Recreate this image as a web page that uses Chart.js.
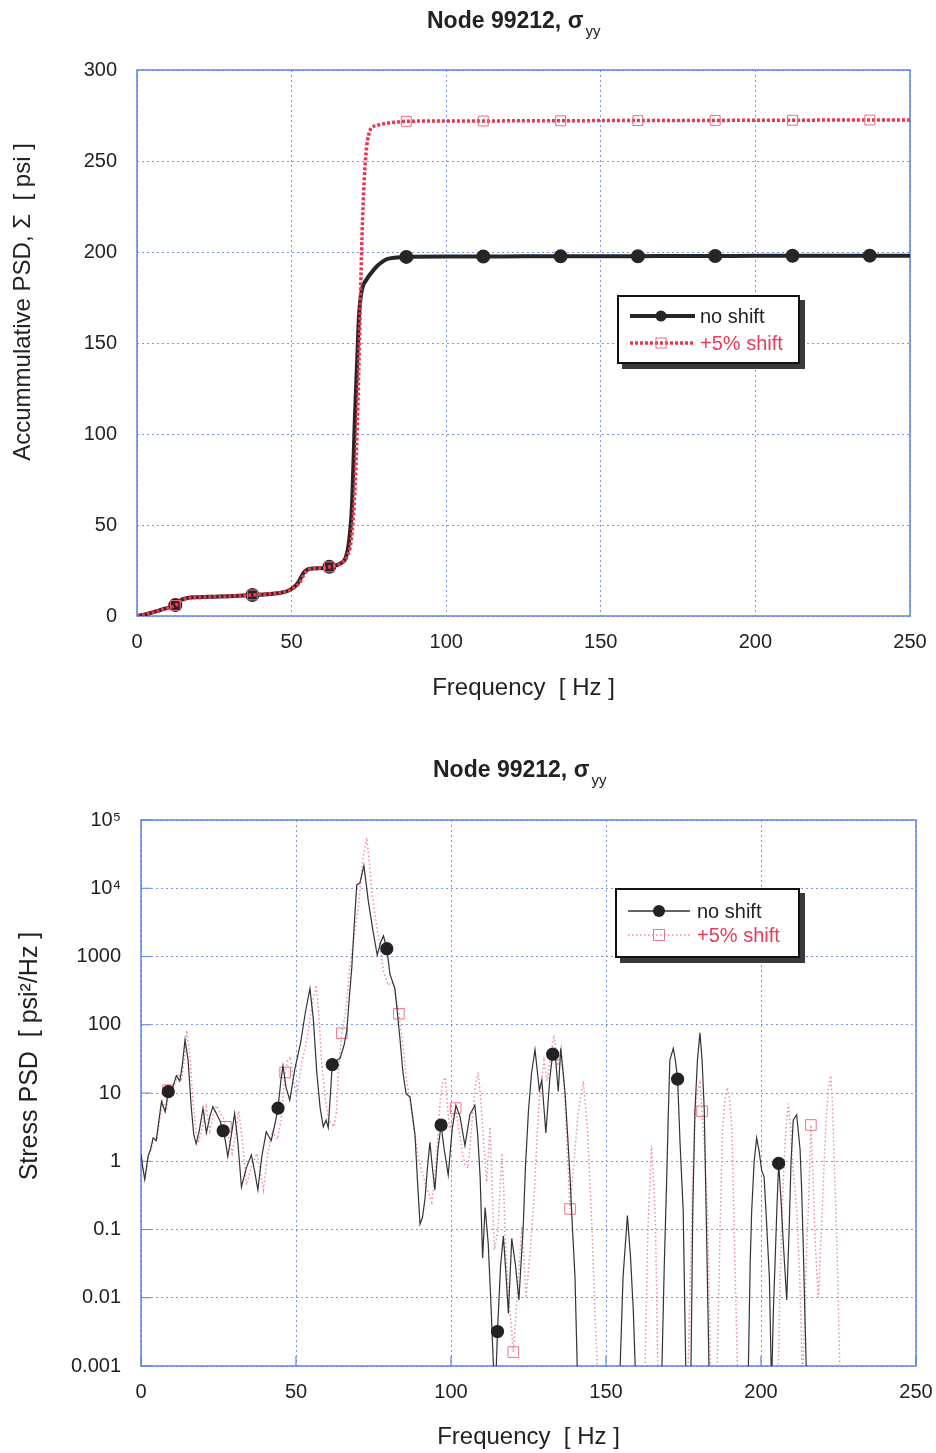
<!DOCTYPE html>
<html>
<head>
<meta charset="utf-8">
<script src="https://cdn.jsdelivr.net/npm/chart.js@4.4.0/dist/chart.umd.min.js"></script>
<style>
  body { margin: 0; background: #fff; }
  #wrap { position: relative; width: 936px; height: 1453px; font-family: "Liberation Sans", Arial, sans-serif; color: #222; }
  canvas { position: absolute; left: 0; }
  .title { position: absolute; font-size: 23px; font-weight: bold; white-space: nowrap; }
  .title sub { font-size: 15px; font-weight: normal; vertical-align: -8px; margin-left: 2px; }
  .ytitle { position: absolute; width: 400px; height: 30px; line-height: 30px; text-align: center;
            font-size: 24px; white-space: pre; transform: rotate(-90deg); }
  .legend { position: absolute; box-sizing: border-box; background: #fff; border: 2px solid #111;
            box-shadow: 5px 5px 0 #3a3a3a; }
  .legend svg { position: absolute; left: 0; top: 0; }
  .legend span { position: absolute; font-size: 20px; line-height: 24px; white-space: nowrap; }
</style>
</head>
<body>
<div id="wrap">
  <canvas id="cum" width="936" height="720" style="top:0"></canvas>
  <canvas id="psd" width="936" height="733" style="top:720px"></canvas>

  <div class="title" style="left:427px;top:7px">Node 99212, σ<sub>yy</sub></div>
  <div class="title" style="left:433px;top:756px">Node 99212, σ<sub>yy</sub></div>

  <div class="ytitle" style="left:-178px;top:287px">Accummulative PSD, Σ  [ psi ]</div>
  <div class="ytitle" style="left:-172px;top:1041px;font-size:25px">Stress PSD  [ psi²/Hz ]</div>

  <!-- legend, top chart -->
  <div class="legend" style="left:617px;top:295px;width:183px;height:69px">
    <svg width="179" height="65">
      <line x1="11" y1="19" x2="76" y2="19" stroke="#262626" stroke-width="4"/>
      <circle cx="42" cy="19" r="5.5" fill="#262626"/>
      <line x1="11" y1="46" x2="76" y2="46" stroke="#f0344f" stroke-width="3.5" stroke-dasharray="3,2"/>
      <rect x="37" y="41" width="10" height="10" fill="none" stroke="#f06a7c" stroke-width="1"/>
    </svg>
    <span style="left:81px;top:7px">no shift</span>
    <span style="left:81px;top:34px;color:#ee3a55">+5% shift</span>
  </div>

  <!-- legend, bottom chart -->
  <div class="legend" style="left:615px;top:888px;width:185px;height:70px">
    <svg width="181" height="66">
      <line x1="11" y1="21" x2="73" y2="21" stroke="#333" stroke-width="1.3"/>
      <circle cx="42" cy="21" r="6" fill="#222"/>
      <line x1="11" y1="45" x2="73" y2="45" stroke="#ee8ea2" stroke-width="1.5" stroke-dasharray="1.5,2.5"/>
      <rect x="36.5" y="39.5" width="11" height="11" fill="none" stroke="#f07284" stroke-width="1"/>
    </svg>
    <span style="left:80px;top:9px">no shift</span>
    <span style="left:80px;top:33px;color:#ee3a55">+5% shift</span>
  </div>
</div>

<script>
// ---- top chart: accumulated PSD (psi) vs frequency (Hz)
const cumFreqNoShift = [0,3,6,9,12.4,14,16,20,25,30,37.3,42,46,48.5,50.5,52,54,56,60,62.2,
  66,67.5,68.5,69.5,70.5,71.2,71.8,72.6,74.3,76,77.5,80.7,84,87.1,100,112,125,137,150,162,
  175,187,200,212,225,237,250];
const cumNoShift = [0,1,2.5,4,6,8.5,9.8,10.3,10.6,10.9,11.5,12,12.6,13.6,15.5,18,24,26,26.3,27,
  29,32,40,60,110,140,165,178,185,189,192,196,197,197.3,197.5,197.5,197.6,197.6,197.7,197.7,
  197.8,197.8,197.9,197.9,198,198,198];
const cumFreqShift = [0,3,6,9,12.4,14.5,16.5,20,25,30,37.3,42,46,48.5,50.8,52.5,54.5,56.5,60,62.2,
  66.5,68,69.3,70.5,71.5,72.2,72.8,73.5,74.3,75.4,76.5,78.6,82,87.1,100,112,125,137,150,162,
  175,187,200,212,225,237,250];
const cumShift = [0,1,2.4,3.9,5.8,8.5,9.8,10.3,10.6,10.9,11.6,12.1,12.7,13.6,15.5,18,24,26,26.3,27,
  29.5,33,42,70,120,170,210,240,258,267,269,270,271,271.8,272,272,272.1,272.1,272.2,272.2,
  272.3,272.3,272.4,272.4,272.5,272.5,272.5];
const cumMarkers = [12.4,37.3,62.2,87.1,112,137,162,187,212,237];

// ---- bottom chart: stress PSD (psi^2/Hz), log scale
// very small values (< 0.001) are points that fall below the plot
const psdFreqNoShift = [0,0.5,1.2,2.3,3.1,3.9,4.9,5.8,6.6,7.8,
  8.8,10.2,11.4,12.5,13.3,14.2,15.2,16.2,17,17.8,
  18.8,20,21.1,22.2,23.2,24.3,25.4,26.5,27.2,28,
  29,30.2,31.2,32.4,34,35.6,36.7,37.7,39,40.4,
  42,43.2,44.2,45.1,45.8,46.8,48,49.6,51.5,53,
  54.5,55.6,56.7,57.8,58.8,59.7,60.4,61.7,63,64.2,
  65.5,66.4,67.2,68,68.8,69.6,70.6,71.9,72.6,73.3,
  74.9,76.2,77.3,78.2,79.3,80.3,81.9,82.7,83.5,84.5,
  85.5,86.8,88.4,89.2,90,90.8,91.6,92.4,93.2,94,
  94.8,95.8,96.8,97.8,99.1,100.4,101.6,102.9,104.5,106.1,
  107.7,108.6,109.4,110.2,111,112,112.8,113.4,114.2,115,
  116,116.9,117.8,118.5,119.6,120.8,121.9,123.3,124,125,
  126,127.1,128.5,129.3,130.6,131.9,132.8,133.5,134.6,135.4,
  136.8,137.6,138.4,139.2,140,141,147,154.5,155.5,156.9,
  157.9,158.8,159.8,164,168,168.8,169.6,170.1,170.6,171.7,
  172.4,173.1,173.9,174.9,175.8,176.6,177.4,178,178.7,179.5,
  180.3,181,181.7,182.5,183.3,190,195.9,196.5,197,197.8,
  198.6,199.4,200.2,201,201.6,202.7,203.4,204,204.6,205.1,
  205.7,206.4,207.2,208.3,209.1,209.7,210.4,211.5,212.6,213.1,
  213.6,214.7,220];
const psdNoShift = [1.3,0.85,0.54,1.2,1.5,2.2,2.0,4,7.5,5.3,
  10.5,12,18,15,25,60,30,6.3,2.5,1.8,
  2.8,6,2.6,4.5,6.3,5,4,2.8,2,1.17,
  2.2,5,2,0.42,0.8,1.24,0.7,0.38,1.2,2.7,
  2.0,3.5,6,15,25,12,7.9,22,55,150,
  340,120,20,6,3.2,4,3.1,26,30,32,
  50,83,250,690,3000,11200,11900,21500,12000,6600,
  2280,1050,1600,2000,1300,550,340,150,65,20,
  9.8,8.7,2.4,0.5,0.12,0.15,0.28,0.8,1.9,0.8,
  0.38,1.5,3.4,1.5,0.63,3,6.6,4.5,1.7,4.8,
  6.6,2.5,0.59,0.038,0.21,0.063,0.01,0.0021,0.0003,0.0032,
  0.03,0.08,0.02,0.0059,0.074,0.03,0.0093,0.11,0.8,5.6,
  20,43,11,15.5,2.6,17,37,43,10.5,45,
  10,2.5,0.59,0.1,0.02,0.0003,0.00001,0.0008,0.02,0.16,
  0.04,0.0066,0.0003,0.00001,0.0008,0.03,0.59,5,30,45,
  30,16,1.8,0.19,0.0006,0.0001,0.0008,0.2,5.6,30,
  76,30,5.6,0.063,0.0006,0.00001,0.0008,0.03,0.19,1,
  2.2,1.4,0.74,0.59,0.19,0.02,0.0005,0.0066,0.04,0.19,
  0.93,0.3,0.063,0.0093,0.11,1,4,4.8,1.5,0.4,
  0.063,0.0006,0.00001];
const psdMarkersNoShift = [8.8,26.5,44.2,61.7,79.3,96.8,115,132.8,173.1,205.7];

const psdFreqShift = [0,0.6,1.3,2.4,3.3,4.1,5.1,6,6.9,8.2,
  8.7,10.7,12,13.1,14,14.7,15.8,16.9,17.8,18.6,
  19.7,21,22.2,23.3,24.4,25.5,26.7,27.4,28.5,29.4,
  30.5,31.5,32.7,34,35.7,37.4,38.5,39.5,40.9,42.4,
  44,45.2,46.5,47.3,48.2,49.2,50.2,52,53.8,55.2,
  56.5,57.4,58.2,59.5,60.5,61.5,62.2,63,63.8,64.8,
  66,67.4,68.8,70.1,71.5,72.8,73.6,74.4,75.5,76.5,
  78.2,79.8,80.7,81.5,83.2,84.6,85.7,86.8,88.4,89.3,
  90.5,92.2,93.8,94.6,95.4,96.5,97.3,98.1,98.8,99.5,
  100.5,101.5,102.5,103.5,104.5,105.5,106.3,107,108,108.8,
  109.7,110.5,111.5,112.6,113.3,114,115.2,116.4,117,117.6,
  118.8,120.1,121.3,122.8,123.5,124.2,125.6,126.8,127.7,128.5,
  130,131,132,133.2,134.5,135.5,136.2,137,137.7,138.4,
  139.5,141,142.7,144,145.5,146.5,147.5,155,162.5,163.5,
  164.7,165.5,166,166.8,171,176.4,177.2,178,178.6,179.3,
  180.3,181,181.8,182.8,183.8,184.8,185.8,186.8,187.6,188.4,
  189.1,189.9,190.6,191.5,192.5,199,205.5,206.2,206.8,207.8,
  208.8,209.6,210.3,211.5,212.5,213.4,214.2,214.7,215.3,216.1,
  216.8,217.5,218.5,219.5,220.3,221,221.8,222.5,223,223.5,
  224.5,225.5,232];
const psdShift = [1.2,0.8,0.55,1.15,1.5,2.2,2.0,4,7.5,5.6,
  11,13,19,16,30,83,35,6.5,2.6,2.0,
  3,6.3,2.8,4.7,6.5,5.2,4.2,3.2,2,1.3,
  2.4,5.4,2,0.45,0.85,1.3,0.7,0.38,1.3,2.8,
  2.1,4,20,30,34,15,9,30,70,200,
  380,140,30,8,4,3.5,3.2,5,25,75,
  150,700,2200,5200,25000,55000,25000,9500,4000,2000,
  620,380,420,400,145,46,15,7.7,2.4,1.2,
  0.73,0.4,0.25,0.5,1.3,7.7,14,17,7,3,
  4,6,3,1.5,0.9,0.8,2,5,14,20,
  7,2,0.5,3.2,0.4,0.05,0.1,1.3,0.4,0.05,
  0.008,0.0016,0.01,0.11,0.04,0.01,0.05,0.3,2,8,
  30,15,30,70,25,45,20,5,1,0.2,
  0.8,5,15,3,0.1,0.005,0.0005,0.00001,0.0005,0.1,
  1.7,0.4,0.1,0.0005,0.00001,0.0006,0.02,0.6,4,10,
  14,5.4,1.5,0.15,0.0006,0.0001,0.0006,0.1,3,8,
  12,8,3,0.05,0.0006,0.00001,0.0006,0.02,0.2,2,
  7,3,0.8,0.2,0.02,0.0006,0.007,0.05,0.2,3.4,
  0.6,0.06,0.01,0.1,0.8,4,12,18,8,1.5,
  0.06,0.0006,0.00001];
const psdMarkersShift = [8.7,27.4,46.5,64.8,83.2,101.5,120.1,138.4,181,216.1];

const freqTicks = [0,50,100,150,200,250];
const cumTicks = [0,50,100,150,200,250,300];
const psdTicks = [0.001,0.01,0.1,1,10,100,1000,1e4,1e5];
const psdTickLabels = ['0.001','0.01','0.1','1','10','100','1000','10⁴','10⁵'];

const FONT = '"Liberation Sans", Arial, sans-serif';
const GRID = 'rgba(110,140,232,0.9)';

function pts(xs, ys) {
  var out = [];
  for (var i = 0; i < xs.length; i++) out.push({x: xs[i], y: ys[i]});
  return out;
}
function markerRadius(list, r) {
  return function(ctx) { return list.indexOf(ctx.raw.x) >= 0 ? r : 0; };
}

// solid blue frame round the plot area (+ short inner tick marks if asked)
function framePlugin(tickLen) {
  return {
    id: 'frame',
    beforeDatasetsDraw(chart) {
      const a = chart.chartArea, c = chart.ctx;
      c.save();
      c.strokeStyle = '#5b84e2';
      c.lineWidth = 1.5;
      c.strokeRect(a.left, a.top, a.right - a.left, a.bottom - a.top);
      if (tickLen) {
        c.lineWidth = 1.2;
        c.beginPath();
        chart.scales.y.ticks.forEach(t => {
          const p = chart.scales.y.getPixelForValue(t.value);
          c.moveTo(a.left, p); c.lineTo(a.left + tickLen, p);
        });
        chart.scales.x.ticks.forEach(t => {
          const p = chart.scales.x.getPixelForValue(t.value);
          c.moveTo(p, a.bottom); c.lineTo(p, a.bottom - tickLen);
        });
        c.stroke();
      }
      c.restore();
    }
  };
}

function xAxis(height, titlePad) {
  return {
    type: 'linear', min: 0, max: 250,
    afterBuildTicks: s => { s.ticks = freqTicks.map(v => ({value: v})); },
    afterFit: s => { s.height = height; s.paddingLeft = 0; s.paddingRight = 0; },
    grid: { color: GRID, drawTicks: false, lineWidth: 1 },
    border: { display: false, dash: [2, 3] },
    ticks: { color: '#222', font: { family: FONT, size: 20 }, padding: 14, maxRotation: 0 },
    title: { display: true, text: 'Frequency  [ Hz ]', color: '#222',
             font: { family: FONT, size: 24 }, padding: { top: 0, bottom: titlePad } }
  };
}

new Chart(document.getElementById('cum'), {
  type: 'line',
  data: {
    datasets: [{
      label: '+5% shift',
      data: pts(cumFreqShift, cumShift),
      borderColor: '#f0344f',
      borderWidth: 3.5,
      borderDash: [3, 2],
      cubicInterpolationMode: 'monotone',
      pointStyle: 'rect',
      pointRadius: markerRadius(cumMarkers, 7),
      pointBackgroundColor: 'rgba(255,255,255,0)',
      pointBorderColor: '#f06a7c',
      pointBorderWidth: 1,
      order: 0
    }, {
      label: 'no shift',
      data: pts(cumFreqNoShift, cumNoShift),
      borderColor: '#262626',
      borderWidth: 4,
      cubicInterpolationMode: 'monotone',
      pointStyle: 'circle',
      pointRadius: markerRadius(cumMarkers, 5),
      pointBackgroundColor: '#262626',
      pointBorderColor: '#262626',
      order: 1
    }]
  },
  options: {
    responsive: false,
    animation: false,
    layout: { padding: { top: 70, right: 26, left: 0, bottom: 0 } },
    plugins: { legend: { display: false }, tooltip: { enabled: false } },
    scales: {
      x: xAxis(104, 17),
      y: {
        type: 'linear', min: 0, max: 300,
        afterBuildTicks: s => { s.ticks = cumTicks.map(v => ({value: v})); },
        afterFit: s => { s.width = 137; s.paddingTop = 0; s.paddingBottom = 0; },
        grid: { color: GRID, drawTicks: false },
        border: { display: false, dash: [2, 3] },
        ticks: { color: '#222', font: { family: FONT, size: 20 }, padding: 20 }
      }
    }
  },
  plugins: [framePlugin(0)]
});

new Chart(document.getElementById('psd'), {
  type: 'line',
  data: {
    datasets: [{
      label: 'no shift',
      data: pts(psdFreqNoShift, psdNoShift),
      borderColor: '#333',
      borderWidth: 1.2,
      tension: 0,
      pointStyle: 'circle',
      pointRadius: markerRadius(psdMarkersNoShift, 6),
      pointBackgroundColor: '#222',
      pointBorderColor: '#222',
      order: 0
    }, {
      label: '+5% shift',
      data: pts(psdFreqShift, psdShift),
      borderColor: '#ee8ea2',
      borderWidth: 1.5,
      borderDash: [1.5, 2.5],
      tension: 0,
      pointStyle: 'rect',
      pointRadius: markerRadius(psdMarkersShift, 7.5),
      pointBackgroundColor: 'rgba(255,255,255,0)',
      pointBorderColor: '#f07284',
      pointBorderWidth: 1,
      order: 1
    }]
  },
  options: {
    responsive: false,
    animation: false,
    layout: { padding: { top: 100, right: 20, left: 0, bottom: 0 } },
    plugins: { legend: { display: false }, tooltip: { enabled: false } },
    scales: {
      x: xAxis(87, 1),
      y: {
        type: 'logarithmic', min: 0.001, max: 1e5,
        afterBuildTicks: s => { s.ticks = psdTicks.map(v => ({value: v})); },
        afterFit: s => { s.width = 141; s.paddingTop = 0; s.paddingBottom = 0; },
        grid: { color: GRID, drawTicks: false },
        border: { display: false, dash: [2, 3] },
        ticks: {
          color: '#222', font: { family: FONT, size: 20 }, padding: 20,
          callback: v => psdTickLabels[psdTicks.indexOf(v)]
        }
      }
    }
  },
  plugins: [framePlugin(10)]
});
</script>
</body>
</html>
